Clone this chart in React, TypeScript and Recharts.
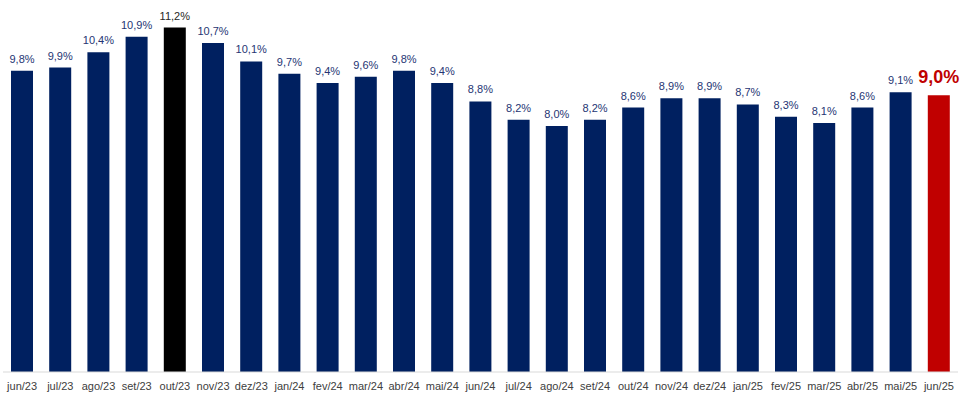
import React from 'react';
import { BarChart, Bar, XAxis, YAxis, Cell, LabelList } from 'recharts';

const categories = ['jun/23','jul/23','ago/23','set/23','out/23','nov/23','dez/23','jan/24','fev/24','mar/24','abr/24','mai/24','jun/24','jul/24','ago/24','set/24','out/24','nov/24','dez/24','jan/25','fev/25','mar/25','abr/25','mai/25','jun/25'];
const values = [9.8, 9.9, 10.4, 10.9, 11.2, 10.7, 10.1, 9.7, 9.4, 9.6, 9.8, 9.4, 8.8, 8.2, 8.0, 8.2, 8.6, 8.9, 8.9, 8.7, 8.3, 8.1, 8.6, 9.1, 9.0];

const data = categories.map((c, i) => ({ name: c, value: values[i] }));

const NAVY = '#002060';
const fmt = (v: number) => v.toFixed(1).replace('.', ',') + '%';

const renderLabel = (props: any) => {
  const { x, y, width, value, index } = props;
  const last = index === values.length - 1;
  const peak = index === 4;
  const cx = x + width / 2;
  if (last) {
    return (
      <text x={cx} y={y - 12} textAnchor="middle" fill="#C00000" fontSize={18} fontWeight="bold" fontFamily="Liberation Sans, Arial, sans-serif">
        {fmt(value)}
      </text>
    );
  }
  return (
    <text x={cx} y={y - 8} textAnchor="middle" fill={peak ? '#262626' : '#253573'} fontSize={11} fontFamily="Liberation Sans, Arial, sans-serif">
      {fmt(value)}
    </text>
  );
};

export default function App() {
  return (
    <div style={{ position: 'absolute', left: 0, top: 0, width: 966, height: 398, background: '#fff' }}>
      <BarChart width={966} height={398} data={data} margin={{ top: 3, right: 8, bottom: 0, left: 3 }}>
        <YAxis hide domain={[0, 12]} />
        <XAxis
          dataKey="name"
          interval={0}
          tickLine={false}
          tickMargin={4}
          axisLine={{ stroke: '#D9D9D9', strokeWidth: 1 }}
          height={26}
          tick={{ fontSize: 11, fill: '#404040', fontFamily: 'Liberation Sans, Arial, sans-serif' }}
        />
        <Bar dataKey="value" barSize={22} isAnimationActive={false}>
          {data.map((d, i) => (
            <Cell key={d.name} fill={i === values.length - 1 ? '#C00000' : i === 4 ? '#000000' : NAVY} />
          ))}
          <LabelList dataKey="value" content={renderLabel} />
        </Bar>
      </BarChart>
    </div>
  );
}
